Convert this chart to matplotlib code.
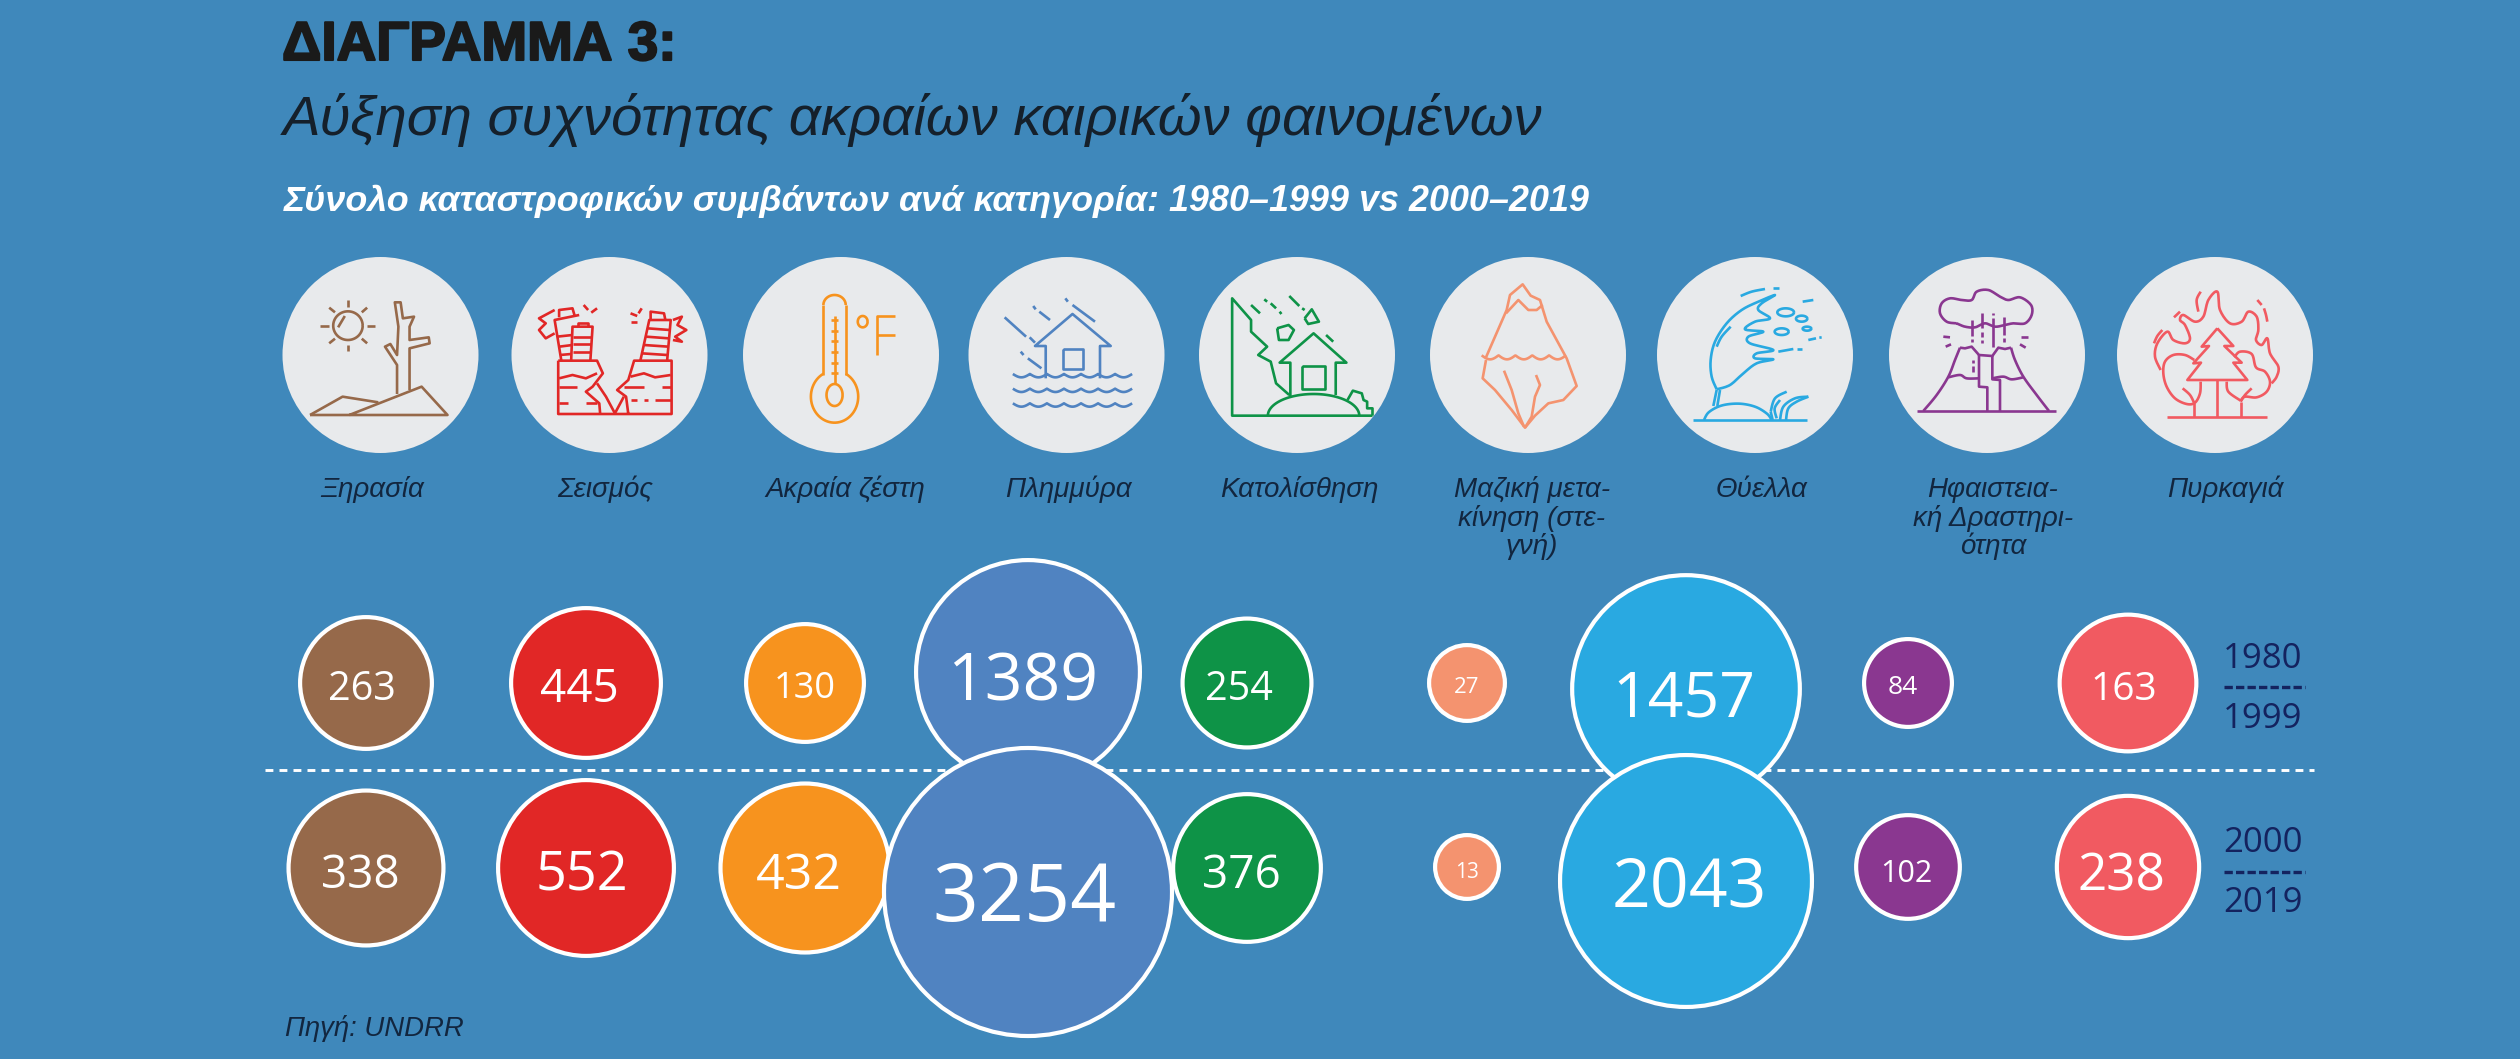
import numpy as np
import matplotlib
matplotlib.use('Agg')
import matplotlib.pyplot as plt
import matplotlib.patches as patches
import matplotlib.patheffects as pe

categories = ['Ξηρασία', 'Σεισμός', 'Ακραία ζέστη', 'Πλημμύρα', 'Κατολίσθηση',
              'Μαζική μετα-\nκίνηση (στε-\nγνή)', 'Θύελλα',
              'Ηφαιστεια-\nκή Δραστηρι-\nότητα', 'Πυρκαγιά']
events_1980_1999 = [263, 445, 130, 1389, 254, 27, 1457, 84, 163]
events_2000_2019 = [338, 552, 432, 3254, 376, 13, 2043, 102, 238]
period_labels = [('1980', '1999'), ('2000', '2019')]

# Colours
bg_color = '#3f88bb'
disc_color = '#e8eaec'
navy = '#12263f'
year_color = '#14235f'
bubble_colors = ['#96694a', '#e12726', '#f7931e', '#5083c1', '#0e9347',
                 '#f4936f', '#29a9e1', '#8a3790', '#f15a61']

# Layout, in pixels of the final image
bubble_x = [366, 586, 805, 1028, 1247, 1467, 1686, 1908, 2128]
row1_y = [683, 683, 683, 672, 683, 683, 689, 683, 683]
row2_y = [868, 868, 868, 892, 868, 867, 881, 867, 867]
disc_x = [380.5, 609.5, 841, 1066.5, 1297, 1528, 1755, 1987, 2215]
disc_y = 355
disc_r = 98
label_x = [372, 605, 845, 1068, 1299, 1532, 1762, 1993, 2225]

# The source sizes its bubbles by eye, so each one gets a small nudge on top of the scale
row1_nudge = [.904, .891, .977, .977, .893, .97, .981, .827, 1.063]
row2_nudge = [.99, .984, 1.01, 1.0, .919, 1.0, .991, .921, 1.0]
row1_text_x = [362, 579, 805, 1023, 1239, 1467, 1684, 1903, 2124]
row2_text_x = [360, 582, 799, 1024, 1241, 1467, 1689, 1906, 2121]
row1_text_y = [686, 686, 685, 677, 686, 685, 694, 685, 686]
row2_text_y = [871, 871, 871, 892, 871, 870, 883, 871, 872]
row1_font = [28.5, 33, 26, 47.5, 28.5, 16, 45, 19, 28]
row2_font = [33, 39, 36, 58, 33, 15, 49, 22, 37]


def bubble_radius(value):
    return 34 * (value / 13) ** 0.264


fig = plt.figure(figsize=(25.2, 10.59), dpi=100, facecolor=bg_color)
ax = fig.add_axes([0, 0, 1, 1])
ax.set_xlim(0, 2520)
ax.set_ylim(1059, 0)
ax.axis('off')

sans = ['Liberation Sans', 'DejaVu Sans']

# Headings
ax.text(282, 60, 'ΔΙΑΓΡΑΜΜΑ 3:', fontsize=39.5, fontweight='bold', family=sans, color='#1a1a1a',
        va='baseline', path_effects=[pe.withStroke(linewidth=1.5, foreground='#1a1a1a')])
ax.text(283, 135, 'Αύξηση συχνότητας ακραίων καιρικών φαινομένων', fontsize=40.5, style='italic',
        family=sans, color='#15202b', va='baseline')
ax.text(284, 211, 'Σύνολο καταστροφικών συμβάντων ανά κατηγορία: 1980–1999 vs 2000–2019',
        fontsize=25.8, style='italic', fontweight='bold', family=sans, color='white', va='baseline')
ax.text(285, 1036, 'Πηγή: UNDRR', fontsize=19.8, style='italic', family=sans, color=navy, va='baseline')

# Grey discs and their labels
for x in disc_x:
    ax.add_patch(patches.Circle((x, disc_y), disc_r, facecolor=disc_color, edgecolor='none', zorder=2))
for x, name in zip(label_x, categories):
    for i, line in enumerate(name.split('\n')):
        ax.text(x, 497 + i * 28.5, line, fontsize=20, style='italic', family=sans, color=navy,
                ha='center', va='baseline')


class Icon:
    def __init__(self, color, x0, sx, y0=240, sy=3, lw=1.9):
        self.color, self.x0, self.sx, self.y0, self.sy, self.lw = color, x0, sx, y0, sy, lw

    def line(self, *pts):
        pts = np.array(pts, dtype=float)
        ax.plot(self.x0 + pts[:, 0] / self.sx, self.y0 + pts[:, 1] / self.sy, color=self.color, lw=self.lw,
                solid_joinstyle='round', solid_capstyle='butt', zorder=3)

    def lines(self, *segs):
        for s in segs:
            self.line(*s)

    def curve(self, *pts):
        # Catmull-Rom through the traced points
        p = np.array(pts, dtype=float)
        p = np.vstack([p[0], p, p[-1]])
        out = []
        for i in range(1, len(p) - 2):
            for t in np.linspace(0, 1, 10, endpoint=False):
                out.append(0.5 * (2 * p[i] + (p[i + 1] - p[i - 1]) * t
                                  + (2 * p[i - 1] - 5 * p[i] + 4 * p[i + 1] - p[i + 2]) * t ** 2
                                  + (3 * p[i] - p[i - 1] - 3 * p[i + 1] + p[i + 2]) * t ** 3))
        out.append(p[-1])
        self.line(*out)

    def arc(self, cx, cy, rx, ry, a0=0, a1=360):
        t = np.radians(np.linspace(a0, a1, 60))
        self.line(*np.column_stack([cx + rx * np.cos(t), cy + ry * np.sin(t)]))

    def waves(self, x0, x1, y, n, h=10):
        xs = np.linspace(x0, x1, 120)
        self.line(*np.column_stack([xs, y + h * np.abs(np.sin(np.pi * n * (xs - x0) / (x1 - x0)))]))


# Drought
k = Icon('#96694a', 260, 2.24)
k.arc(197, 257, 33, 43)
k.line((175, 262), (190, 228))
k.lines([(197, 180), (197, 200)], [(197, 315), (197, 333)], [(135, 257), (155, 257)], [(240, 257), (258, 257)],
        [(155, 203), (168, 217)], [(240, 203), (228, 217)], [(155, 310), (168, 296)], [(240, 310), (228, 296)])
k.line((307, 462), (307, 375), (280, 320), (292, 312), (307, 345), (310, 260), (302, 187), (315, 187), (320, 235),
       (345, 230), (335, 260), (335, 300), (378, 292), (380, 310), (335, 325), (335, 450))
k.line((112, 525), (420, 525), (362, 440), (200, 525))
k.line((112, 525), (185, 470), (265, 487))

# Earthquake
k = Icon('#e12726', 260, 2.24)
k.line((668, 362), (668, 522), (922, 522), (922, 362), (838, 362), (825, 420), (800, 450), (820, 470), (825, 522))
k.line((668, 362), (755, 362), (768, 400), (745, 440), (730, 455), (760, 490), (762, 522))
k.line((755, 430), (775, 470), (795, 520), (815, 470))
k.line((670, 415), (700, 405), (730, 415), (755, 400))
k.line((830, 410), (860, 400), (885, 412), (920, 405))
k.lines([(670, 440), (710, 440)], [(670, 490), (690, 490)], [(730, 490), (755, 490)], [(815, 442), (860, 442)],
        [(900, 440), (920, 440)], [(830, 480), (845, 480)], [(860, 480), (870, 480)], [(885, 480), (920, 480)])
k.line((675, 362), (660, 240), (715, 225))
k.line((670, 232), (670, 210), (700, 205), (705, 228))
k.line((697, 362), (700, 260), (745, 260), (740, 362))
k.line((712, 260), (712, 248), (735, 248), (735, 260))
k.lines([(700, 290), (742, 290)], [(700, 312), (742, 312)], [(700, 335), (742, 335)], [(665, 290), (700, 285)],
        [(670, 320), (700, 315)], [(672, 345), (697, 342)])
k.line((660, 210), (625, 235), (640, 250), (625, 270), (640, 295), (660, 280))
k.line((852, 362), (872, 240), (920, 240), (912, 362))
k.line((875, 240), (875, 215), (905, 220), (908, 240))
k.lines([(868, 265), (918, 270)], [(865, 290), (915, 295)], [(860, 315), (915, 320)], [(855, 340), (912, 345)])
k.line((925, 240), (945, 230), (935, 255), (955, 270), (930, 290), (945, 305), (925, 300))
k.lines([(725, 195), (735, 210)], [(755, 205), (742, 218)], [(855, 205), (848, 220)], [(830, 220), (845, 228)],
        [(830, 245), (845, 245)])

# Extreme heat
k = Icon('#f7931e', 260, 2.24)
k.arc(1287, 195, 25, 30, 180, 360)
k.line((1262, 195), (1262, 405))
k.line((1312, 195), (1312, 405))
k.arc(1287, 470, 53, 78, -62, 242)
k.arc(1287, 465, 18, 33)
k.line((1287, 228), (1287, 432))
for y in range(240, 430, 32):
    k.line((1279, y), (1295, y))
k.arc(1350, 245, 11, 17)
k.line((1383, 345), (1383, 228), (1422, 228))
k.line((1383, 285), (1422, 285))

# Flood
k = Icon('#5083c1', 960, 2.8)
k.line((240, 415), (240, 318), (210, 318), (315, 222), (422, 318), (392, 318), (392, 415))
k.line((287, 328), (345, 328), (345, 388), (287, 388), (287, 328))
for y in (402, 446, 490):
    k.waves(148, 482, y, 7)
k.lines([(125, 232), (185, 290)], [(195, 292), (210, 308)], [(205, 198), (212, 208)], [(222, 215), (252, 240)],
        [(295, 175), (302, 185)], [(315, 195), (378, 245)], [(170, 335), (178, 345)], [(190, 355), (228, 385)])

# Landslide
k = Icon('#0e9347', 960, 2.8)
k.line((1155, 527), (762, 527), (762, 175), (815, 240), (815, 275), (860, 320), (835, 345), (870, 365), (885, 430),
       (922, 465))
k.line((925, 470), (925, 368), (895, 368), (990, 280), (1082, 368), (1052, 368), (1052, 465))
k.line((957, 378), (1022, 378), (1022, 447), (957, 447), (957, 378))
k.arc(990, 527, 128, 65, 180, 360)
k.line((1085, 480), (1100, 452), (1125, 460), (1130, 480), (1140, 485), (1140, 505), (1155, 505), (1155, 527))
k.line((888, 265), (920, 255), (935, 270), (920, 300), (893, 300), (888, 265))
k.line((965, 235), (985, 208), (1005, 245), (975, 252), (965, 235))
k.lines([(815, 195), (840, 220)], [(852, 178), (860, 185)], [(870, 190), (885, 205)], [(895, 215), (900, 222)],
        [(922, 168), (950, 198)], [(958, 205), (965, 210)], [(1025, 285), (1045, 305)])

# Mass movement (iceberg)
k = Icon('#f4936f', 1400, 3, y0=250)
k.line((258, 322), (320, 180), (330, 135), (368, 103), (392, 137), (420, 150), (440, 215), (500, 325), (530, 408),
       (490, 450), (445, 460), (405, 497), (375, 533), (335, 480), (285, 420), (248, 385), (258, 330))
k.line((318, 190), (355, 150), (385, 180), (410, 180), (428, 165))
k.waves(245, 498, 316, 5, h=12)
k.line((312, 362), (335, 420), (355, 490), (372, 530))
k.line((408, 375), (420, 405), (405, 440), (395, 500), (375, 533))

# Storm
k = Icon('#29a9e1', 1680, 3, y0=280)
k.line((40, 420), (382, 420))
k.curve((72, 420), (85, 398), (115, 380), (150, 372), (190, 372), (230, 382), (262, 402), (275, 420))
k.lines([(100, 378), (110, 330)], [(112, 378), (120, 330)])
k.curve((110, 328), (95, 290), (92, 240), (105, 185), (140, 130), (185, 90), (235, 65), (285, 45), (245, 70),
        (235, 90), (270, 115), (225, 125), (195, 148), (250, 155), (205, 170), (210, 190), (280, 210), (230, 220),
        (225, 235), (280, 238), (230, 250), (190, 280), (150, 315), (110, 328))
k.curve((110, 200), (125, 170), (152, 140))
k.curve((182, 48), (215, 35), (255, 27))
k.lines([(278, 24), (297, 24)], [(368, 65), (400, 60)], [(385, 180), (408, 175)], [(418, 173), (425, 172)],
        [(295, 215), (340, 207)], [(350, 207), (365, 207)])
k.arc(317, 97, 25, 12)
k.arc(365, 116, 17, 9)
k.arc(381, 146, 13, 6)
k.arc(305, 155, 21, 10)
k.curve((272, 395), (285, 355), (320, 335))
k.curve((278, 420), (272, 395))
k.curve((300, 420), (310, 380), (345, 355), (385, 350))
k.curve((318, 420), (325, 385), (350, 365), (385, 350))
k.curve((290, 415), (284, 385), (300, 360))

# Volcano
k = Icon('#8a3790', 1905, 3, y0=280)
k.line((35, 393), (452, 393))
k.curve((55, 393), (95, 345), (130, 290), (150, 240), (165, 203))
k.line((165, 203), (180, 205), (200, 200), (222, 225), (262, 228), (280, 203), (300, 207), (318, 203))
k.curve((318, 203), (330, 240), (355, 290), (395, 345), (432, 393))
k.line((247, 393), (247, 322), (222, 320), (222, 225))
k.line((285, 393), (285, 300), (262, 298), (262, 228))
k.curve((130, 292), (165, 285), (185, 295), (222, 295))
k.curve((262, 295), (295, 290), (320, 298), (355, 292))
k.curve((155, 130), (125, 125), (105, 100), (110, 70), (135, 55), (170, 60), (200, 60), (215, 35), (250, 30),
        (285, 50), (310, 60), (345, 52), (378, 75), (380, 105), (360, 130), (325, 130), (300, 135), (270, 140),
        (240, 130), (210, 142), (180, 140), (155, 130))
k.lines([(200, 120), (200, 168)], [(200, 178), (200, 185)], [(230, 100), (230, 145)], [(230, 155), (230, 170)],
        [(230, 180), (230, 190)], [(263, 98), (263, 105)], [(263, 115), (263, 200)], [(297, 112), (297, 165)],
        [(297, 175), (297, 185)], [(115, 170), (135, 172)], [(122, 200), (138, 193)], [(348, 170), (368, 170)],
        [(345, 193), (362, 203)], [(205, 240), (205, 250)], [(205, 258), (205, 275)])

# Wildfire
k = Icon('#f15a61', 2130, 3, y0=280)
k.line((110, 412), (412, 412))
k.line((262, 145), (215, 200), (237, 198), (190, 250), (213, 248), (172, 300), (352, 300), (310, 248), (335, 248),
       (283, 198), (310, 198), (262, 145))
k.lines([(262, 300), (262, 412)], [(193, 370), (193, 412)], [(332, 365), (332, 412)])
k.curve((193, 240), (165, 225), (130, 225), (105, 245), (100, 280), (110, 320), (135, 355), (170, 372), (195, 368),
        (210, 340), (212, 305))
k.curve((158, 325), (180, 345), (193, 370))
k.curve((313, 232), (330, 215), (365, 222), (378, 262), (405, 275), (420, 305), (410, 335), (380, 352), (345, 350),
        (332, 362))
k.curve((290, 305), (295, 335), (332, 362))
k.curve((365, 325), (345, 345), (332, 365))
k.curve((92, 270), (75, 230), (82, 190), (112, 155), (130, 180), (165, 190), (180, 175), (165, 135), (150, 120),
        (160, 105), (195, 125), (220, 110), (235, 60), (262, 35), (270, 90), (300, 130), (335, 125), (355, 95),
        (380, 110), (385, 150), (378, 180), (395, 195), (412, 175), (420, 220), (445, 260), (440, 290), (425, 310))
k.curve((72, 190), (82, 168), (97, 150))
k.line((132, 112), (150, 95))
k.curve((205, 95), (200, 60), (212, 35))
k.line((382, 60), (395, 75))
k.curve((402, 85), (408, 105), (412, 125))

# Divider between the two periods
ax.plot([265, 2314], [770, 770], color='white', lw=2.1, dashes=(2.7, 2.1), dash_capstyle='butt', zorder=3)


def draw_row(values, ys, nudges, text_xs, text_ys, fonts, z):
    for i, v in enumerate(values):
        r = bubble_radius(v) * nudges[i]
        ax.add_patch(patches.Circle((bubble_x[i], ys[i]), r - 2.1, facecolor=bubble_colors[i], edgecolor='white',
                                    lw=3, zorder=z + i * 0.01))
        # baseline from the digit height, keeps the figures centred where they are in the source
        ax.text(text_xs[i], text_ys[i] + fonts[i] * 0.5, str(v), fontsize=fonts[i], family='Open Sans', color='white',
                ha='center', va='baseline', zorder=z + 0.5)


draw_row(events_1980_1999, row1_y, row1_nudge, row1_text_x, row1_text_y, row1_font, 4)
draw_row(events_2000_2019, row2_y, row2_nudge, row2_text_x, row2_text_y, row2_font, 6)

# Period key at the right
for (start, end), y_top, y_rule, y_bot in zip(period_labels, (655, 839), (687, 872), (716, 900)):
    ax.text(2263, y_top + 12.5, start, fontsize=25, family='Open Sans', color=year_color, ha='center', va='baseline')
    ax.text(2263, y_bot + 12.5, end, fontsize=25, family='Open Sans', color=year_color, ha='center', va='baseline')
    ax.plot([2224, 2305], [y_rule, y_rule], color=year_color, lw=2.4, dashes=(2.5, 0.95), dash_capstyle='butt')

fig.savefig('out.png', dpi=100, facecolor=bg_color)
